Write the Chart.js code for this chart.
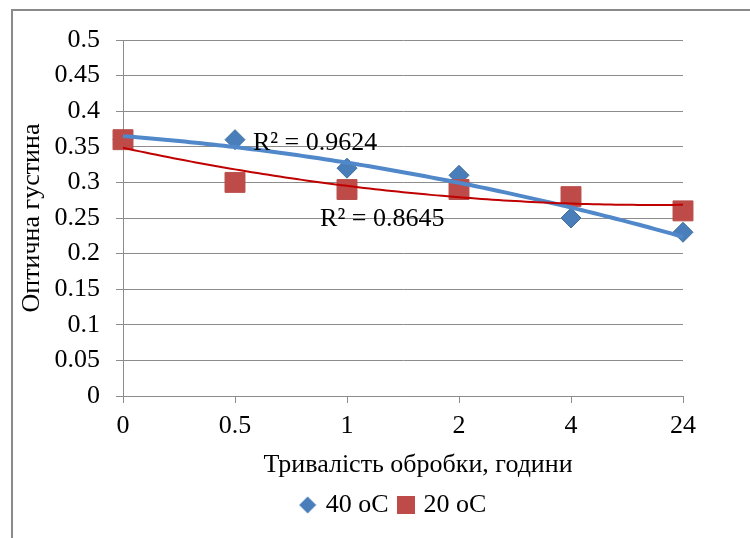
<!DOCTYPE html>
<html>
<head>
<meta charset="utf-8">
<script src="https://cdn.jsdelivr.net/npm/chart.js@4.4.1/dist/chart.umd.min.js"></script>
<style>
  html, body { margin: 0; padding: 0; background: #fff; }
  #wrap { width: 750px; height: 538px; }
</style>
</head>
<body>
<div id="wrap"><canvas id="chart" width="750" height="538"></canvas></div>
<script>
// data
const categories = ['0', '0.5', '1', '2', '4', '24'];
const seriesNames = ['40 oC', '20 oC'];
const series40 = [0.36, 0.36, 0.32, 0.31, 0.25, 0.23];
const series20 = [0.36, 0.30, 0.29, 0.29, 0.28, 0.26];
const rSquaredLabels = ['R² = 0.9624', 'R² = 0.8645'];
const xTitle = 'Тривалість обробки, години';
const yTitle = 'Оптична густина';

const blue = '#4A7EBB';
const red = '#BE4B48';
const gridGray = '#8C8C8C';
const serif = "'Liberation Serif', 'Times New Roman', serif";

Chart.defaults.font.family = serif;
Chart.defaults.font.size = 26;
Chart.defaults.color = '#000';

// 2nd order polynomial trendline (least squares, x = 1..n like Excel)
function polyFit2(ys) {
    let s = [0, 0, 0, 0, 0], t = [0, 0, 0];
    ys.forEach((y, i) => {
        const x = i + 1;
        for (let k = 0; k < 5; k++) s[k] += Math.pow(x, k);
        for (let k = 0; k < 3; k++) t[k] += y * Math.pow(x, k);
    });
    const m = [
        [s[0], s[1], s[2], t[0]],
        [s[1], s[2], s[3], t[1]],
        [s[2], s[3], s[4], t[2]]
    ];
    for (let c = 0; c < 3; c++) {
        for (let r = c + 1; r < 3; r++) {
            const f = m[r][c] / m[c][c];
            for (let k = c; k < 4; k++) m[r][k] -= f * m[c][k];
        }
    }
    const a = [0, 0, 0];
    for (let r = 2; r >= 0; r--) {
        let v = m[r][3];
        for (let k = r + 1; k < 3; k++) v -= m[r][k] * a[k];
        a[r] = v / m[r][r];
    }
    return a;
}

function trendPoints(ys) {
    const a = polyFit2(ys);
    const pts = [];
    const last = ys.length - 1;
    for (let i = 0; i <= 100; i++) {
        const x = last * i / 100;
        const xe = x + 1;
        pts.push({ x: x, y: a[0] + a[1] * xe + a[2] * xe * xe });
    }
    return pts;
}

function toPoints(ys) {
    return ys.map((y, i) => ({ x: i, y: y }));
}

function markerCanvas(kind, color) {
    const c = document.createElement('canvas');
    c.width = 18; c.height = 18;
    const g = c.getContext('2d');
    g.fillStyle = color;
    if (kind === 'diamond') {
        g.beginPath();
        g.moveTo(9, 0.5); g.lineTo(17.5, 9); g.lineTo(9, 17.5); g.lineTo(0.5, 9);
        g.closePath();
        g.fill();
    } else {
        g.fillRect(0, 0, 18, 18);
    }
    return c;
}
const legendIcons = [markerCanvas('diamond', blue), markerCanvas('square', red)];

const frame = {
    id: 'frame',
    beforeDraw(chart) {
        const ctx = chart.ctx;
        ctx.save();
        ctx.fillStyle = '#fff';
        ctx.fillRect(0, 0, chart.width, chart.height);
        ctx.strokeStyle = '#8A8A8A';
        ctx.lineWidth = 2;
        ctx.beginPath();
        ctx.moveTo(12, chart.height);
        ctx.lineTo(12, 10);
        ctx.lineTo(chart.width, 10);
        ctx.stroke();
        ctx.restore();
    }
};

// the original chart box is wider than the crop, so legend and x title sit right of the plot centre
const shiftBottom = {
    id: 'shiftBottom',
    afterLayout(chart) {
        chart.legend.left += 47;
        chart.legend.right += 47;
    },
    afterDraw(chart) {
        const { ctx, chartArea } = chart;
        ctx.save();
        ctx.font = '26px ' + serif;
        ctx.fillStyle = '#000';
        ctx.textAlign = 'center';
        ctx.textBaseline = 'middle';
        ctx.fillText(xTitle, (chartArea.left + chartArea.right) / 2 + 15, chartArea.bottom + 69);
        ctx.restore();
    }
};

const rLabels = {
    id: 'rLabels',
    afterDatasetsDraw(chart) {
        const { ctx, scales: { x, y } } = chart;
        const spots = [{ x: 1.16, y: 0.355 }, { x: 1.76, y: 0.248 }];
        ctx.save();
        ctx.font = '26px ' + serif;
        ctx.fillStyle = '#000';
        ctx.textAlign = 'left';
        ctx.textBaseline = 'middle';
        rSquaredLabels.forEach((txt, i) => {
            ctx.fillText(txt, x.getPixelForValue(spots[i].x), y.getPixelForValue(spots[i].y));
        });
        ctx.restore();
    }
};

new Chart(document.getElementById('chart'), {
    type: 'line',
    data: {
        datasets: [
            {
                label: seriesNames[0],
                data: toPoints(series40),
                showLine: false,
                clip: false,
                pointStyle: 'rectRot',
                pointRadius: 10,
                pointHoverRadius: 10,
                backgroundColor: blue,
                borderColor: '#41719F',
                pointBorderWidth: 1,
                order: 3
            },
            {
                label: seriesNames[1],
                data: toPoints(series20),
                showLine: false,
                clip: false,
                pointStyle: 'rect',
                pointRadius: 14.1,
                pointHoverRadius: 14.1,
                backgroundColor: red,
                borderColor: '#B8504D',
                pointBorderWidth: 1,
                order: 2
            },
            {
                label: 'trend40',
                data: trendPoints(series40),
                borderColor: '#5088CA',
                borderWidth: 4,
                pointRadius: 0,
                clip: false,
                tension: 0,
                order: 1
            },
            {
                label: 'trend20',
                data: trendPoints(series20),
                borderColor: '#C00000',
                borderWidth: 2,
                pointRadius: 0,
                clip: false,
                tension: 0,
                order: 0
            }
        ]
    },
    options: {
        responsive: false,
        animation: false,
        layout: { padding: { left: 12, top: 40, right: 67, bottom: 10 } },
        plugins: {
            tooltip: { enabled: false },
            legend: {
                position: 'bottom',
                labels: {
                    usePointStyle: true,
                    boxWidth: 10,
                    boxHeight: 18,
                    padding: 12,
                    color: '#000',
                    filter: item => item.datasetIndex < 2,
                    sort: (a, b) => a.datasetIndex - b.datasetIndex,
                    generateLabels(chart) {
                        const items = Chart.defaults.plugins.legend.labels.generateLabels(chart);
                        items.forEach(it => {
                            if (it.datasetIndex < 2) it.pointStyle = legendIcons[it.datasetIndex];
                        });
                        return items;
                    }
                }
            }
        },
        scales: {
            x: {
                type: 'linear',
                min: 0,
                max: categories.length - 1,
                afterFit(scale) { scale.height = 84; },
                ticks: {
                    stepSize: 1,
                    padding: 8,
                    callback: v => categories[v]
                },
                grid: {
                    drawOnChartArea: false,
                    tickLength: 7,
                    color: gridGray
                },
                border: { color: gridGray, width: 1 },
                title: { display: false, text: xTitle }
            },
            y: {
                min: 0,
                max: 0.5,
                afterFit(scale) { scale.width = 111; },
                ticks: {
                    stepSize: 0.05,
                    padding: 16,
                    callback: v => String(+v.toFixed(2))
                },
                grid: {
                    tickLength: 7,
                    color: gridGray
                },
                border: { color: gridGray, width: 1 },
                title: {
                    display: true,
                    text: yTitle,
                    padding: { top: 5, bottom: 0 }
                }
            }
        }
    },
    plugins: [frame, shiftBottom, rLabels]
});
</script>
</body>
</html>
